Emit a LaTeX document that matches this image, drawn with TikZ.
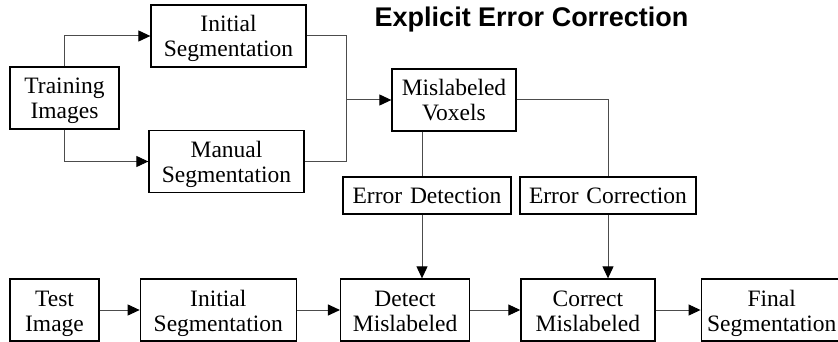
\documentclass[tikz,border=0pt]{standalone}
\usepackage{fontspec}
\setmainfont{Liberation Serif}
\newfontfamily\titlefont{Liberation Sans}
\usetikzlibrary{positioning, arrows.meta}

\tikzset{
  block/.style={draw, line width=1.3pt, align=center, inner sep=0pt,
    text width=#1, minimum height=62pt, font=\fontsize{23.5}{25}\selectfont,
    execute at begin node={\rule{0pt}{24.5pt}},
    execute at end node={\rule[-7.5pt]{0pt}{0pt}}},
  slim/.style={minimum height=37pt},
  flow/.style={line width=1pt, black!70},
  arr/.style={flow, -{Triangle[length=12pt,width=11pt,black]}},
}

\begin{document}
\begin{tikzpicture}[x=1pt, y=-1pt]
	\useasboundingbox (0,0) rectangle (838,342);
	\node[font=\titlefont\bfseries\fontsize{27}{30}\selectfont, anchor=base] (title) at (531.5,27) {Explicit Error Correction};
	
	% training
	\node[block=109pt] (train) at (64.5,98) {Training\\Images};
	\node[block=155pt] (seg1) at (228.5,36) {Initial\\Segmentation};
	\node[block=155pt] (manual) at (226.5,161.5) {Manual\\Segmentation};
	\node[block=124pt] (misl) at (454,100) {Mislabeled\\Voxels};
	\node[block=168pt, slim] (errdet) at (427,195.5) {Error Detection};
	\node[block=176pt, slim] (errcor) at (608,195.5) {Error Correction};
	
	% testing
	\node[block=89pt] (test) at (54.5,310) {Test\\Image};
	\node[block=156pt, right=40pt of test] (seg2) {Initial\\Segmentation};
	\node[block=129pt, right=43pt of seg2] (detect) {Detect\\Mislabeled};
	\node[block=134pt, right=50pt of detect] (correct) {Correct\\Mislabeled};
	\node[block=141pt, right=45pt of correct] (final) {Final\\Segmentation};
	
	\draw[arr] (train.north) |- (seg1.west);
	\draw[arr] (train.south) |- (manual.west);
	\draw[flow] (seg1.east) -| ([xshift=-45pt]misl.west) |- (manual.east);
	\draw[arr] ([xshift=-45pt]misl.west) -- (misl.west);
	\draw[flow] (misl.east) -| (errcor.north);
	\draw[flow] ([xshift=-32pt]misl.south) -- ([xshift=-32pt]misl.south |- errdet.north);
	\draw[arr] ([xshift=-5pt]errdet.south) -- ([xshift=-5pt]errdet.south |- detect.north);
	\draw[arr] (errcor.south) -- (errcor.south |- correct.north);
	
	\draw[arr] (test) -- (seg2);
	\draw[arr] (seg2) -- (detect);
	\draw[arr] (detect) -- (correct);
	\draw[arr] (correct) -- (final);
\end{tikzpicture}
\end{document}
